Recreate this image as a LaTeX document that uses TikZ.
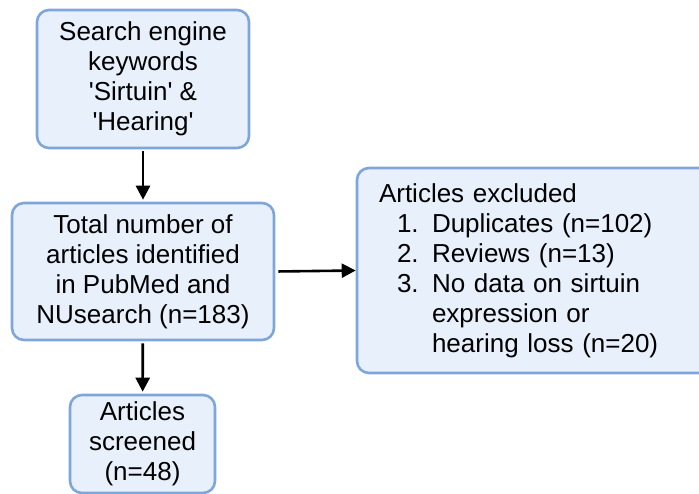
\documentclass[tikz,border=0pt]{standalone}
\usepackage{fontspec}
\setmainfont{Liberation Sans}
\usetikzlibrary{arrows.meta}
\definecolor{boxfill}{HTML}{E8F0FB}
\definecolor{boxline}{HTML}{7FA6DA}
\tikzset{
  flowbox/.style={draw=boxline, fill=boxfill, line width=2.6pt, rounded corners=12pt,
    inner sep=0pt, font=\fontsize{26}{30}\selectfont, align=center},
  flowarrow/.style={line width=2.6pt, black, -{Triangle[length=14pt,width=14pt]}}
}
% list label column of the exclusion box
\newcommand{\lead}[1]{\leavevmode\hbox to 53pt{\hskip18pt #1\hfil}}
\newcommand{\sq}{\textquotesingle}
\begin{document}
\begin{tikzpicture}[x=1pt,y=-1pt]
  \useasboundingbox (0,0) rectangle (699,493);
  \node[flowbox, minimum width=212pt, minimum height=138pt] (search) at (143,79)
    {Search engine\\keywords\\\sq Sirtuin\sq{} \&\\\sq Hearing\sq};
  \node[flowbox, minimum width=262pt, minimum height=137pt] (total) at (143,271.5)
    {Total number of\\articles identified\\in PubMed and\\NUsearch (n=183)};
  \node[flowbox, minimum width=145pt, minimum height=98pt] (screened) at (142.5,444)
    {Articles\\screened\\(n=48)};
  \node[flowbox, minimum width=356pt, minimum height=205pt, text width=312pt,
        align=left, inner xsep=22pt] (excluded) at (535,270.5)
    {Articles excluded\\
     \lead{1.}Duplicates (n=102)\\
     \lead{2.}Reviews (n=13)\\
     \lead{3.}No data on sirtuin\\
     \lead{}expression or\\
     \lead{}hearing loss (n=20)};
  \draw[flowarrow, shorten <=2pt, shorten >=2pt] (search) -- (total);
  \draw[flowarrow, shorten <=2pt, shorten >=2pt] (total) -- (screened);
  \draw[flowarrow, shorten <=3pt] (total.east) -- (excluded.west);
\end{tikzpicture}
\end{document}
